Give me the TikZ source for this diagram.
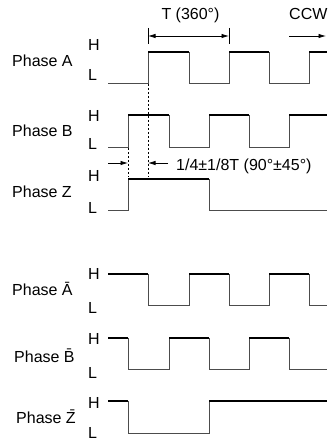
\documentclass[tikz,border=0pt]{standalone}
\usepackage{fontspec}
\setmainfont{Liberation Sans}
\usetikzlibrary{arrows.meta}

\begin{document}
\begin{tikzpicture}[x=1pt, y=-1pt,
    label/.style={anchor=base west, inner sep=0pt,
        font=\fontsize{16}{19}\selectfont},
    lowline/.style={line width=0.9pt, black!70},
    highline/.style={line width=2.2pt, black},
    guide/.style={line width=0.7pt, black, dash pattern=on 2pt off 2pt},
    dim/.style={line width=0.8pt, black, -{Latex[length=7.5pt,width=4.5pt]}}
]
    \useasboundingbox (0,0) rectangle (327,443);
    % phase labels
    \node[label] (pa) at (12,67) {Phase A};
    \node[label] (pah) at (88,51) {H};
    \node[label] (pal) at (88,81) {L};
    \node[label] (pb) at (12,137) {Phase B};
    \node[label] (pbh) at (88,122) {H};
    \node[label] (pbl) at (88,150) {L};
    \node[label] (pz) at (12,197) {Phase Z};
    \node[label] (pzh) at (88,182) {H};
    \node[label] (pzl) at (88,214) {L};
    \node[label] (na) at (12,295) {Phase \=A};
    \node[label] (nah) at (88,279.5) {H};
    \node[label] (nal) at (88,313) {L};
    \node[label] (nb) at (14,362) {Phase \=B};
    \node[label] (nbh) at (88,344) {H};
    \node[label] (nbl) at (88,378) {L};
    \node[label] (nz) at (16,423) {Phase \=Z};
    \node[label] (nzh) at (88,408) {H};
    \node[label] (nzl) at (88,438) {L};
    % phase A
    \draw[lowline] (108,83) -- (148,83) -- (148,52) -- (189,52) -- (189,83)
        -- (229,83) -- (229,52) -- (269,52) -- (269,83) -- (309,83) -- (309,52) -- (327,52);
    \draw[highline] (148,52) -- (189,52) (229,52) -- (269,52) (309,52) -- (327,52);
    % phase B
    \draw[lowline] (108,147) -- (128,147) -- (128,115) -- (169,115) -- (169,147)
        -- (209,147) -- (209,115) -- (249,115) -- (249,147) -- (289,147) -- (289,115) -- (327,115);
    \draw[highline] (128,115) -- (169,115) (209,115) -- (249,115) (289,115) -- (327,115);
    % phase Z
    \draw[lowline] (108,210) -- (128,210) -- (128,179) -- (209,179) -- (209,210) -- (327,210);
    \draw[highline] (128,179) -- (209,179);
    % phase A bar
    \draw[lowline] (108,274) -- (148,274) -- (148,305) -- (189,305) -- (189,274)
        -- (229,274) -- (229,305) -- (269,305) -- (269,274) -- (309,274) -- (309,305) -- (327,305);
    \draw[highline] (108,274) -- (148,274) (189,274) -- (229,274) (269,274) -- (309,274);
    % phase B bar
    \draw[lowline] (108,338) -- (128,338) -- (128,369) -- (169,369) -- (169,338)
        -- (209,338) -- (209,369) -- (249,369) -- (249,338) -- (289,338) -- (289,369) -- (327,369);
    \draw[highline] (108,338) -- (128,338) (169,338) -- (209,338) (249,338) -- (289,338);
    % phase Z bar
    \draw[lowline] (108,401) -- (128,401) -- (128,433) -- (209,433) -- (209,401) -- (327,401);
    \draw[highline] (108,401) -- (128,401) (209,401) -- (327,401);
    % period
    \node[label, anchor=base] (period) at (190.5,20) {T (360°)};
    \coordinate (tl) at (148,36);
    \coordinate (tr) at (229,36);
    \draw[line width=0.8pt] (148,28) -- (148,44) (229,28) -- (229,44);
    \draw[dim, {Latex[length=7.5pt,width=4.5pt]}-{Latex[length=7.5pt,width=4.5pt]}] (tl) -- (tr);
    % direction
    \node[label] (ccw) at (289,20) {CCW};
    \coordinate (ccwa) at (289,36);
    \coordinate (ccwb) at (326,36);
    \draw[dim] (ccwa) -- (ccwb);
    % phase difference
    \draw[guide] (148,84) -- (148,177);
    \draw[guide] (128,148) -- (128,177);
    \coordinate (qa) at (108,163);
    \coordinate (qb) at (128,163);
    \coordinate (qc) at (168,163);
    \coordinate (qd) at (148,163);
    \draw[dim] (qa) -- (qb);
    \draw[dim] (qc) -- (qd);
    \node[label] (quarter) at (176,170.5) {1/4±1/8T (90°±45°)};
\end{tikzpicture}
\end{document}
